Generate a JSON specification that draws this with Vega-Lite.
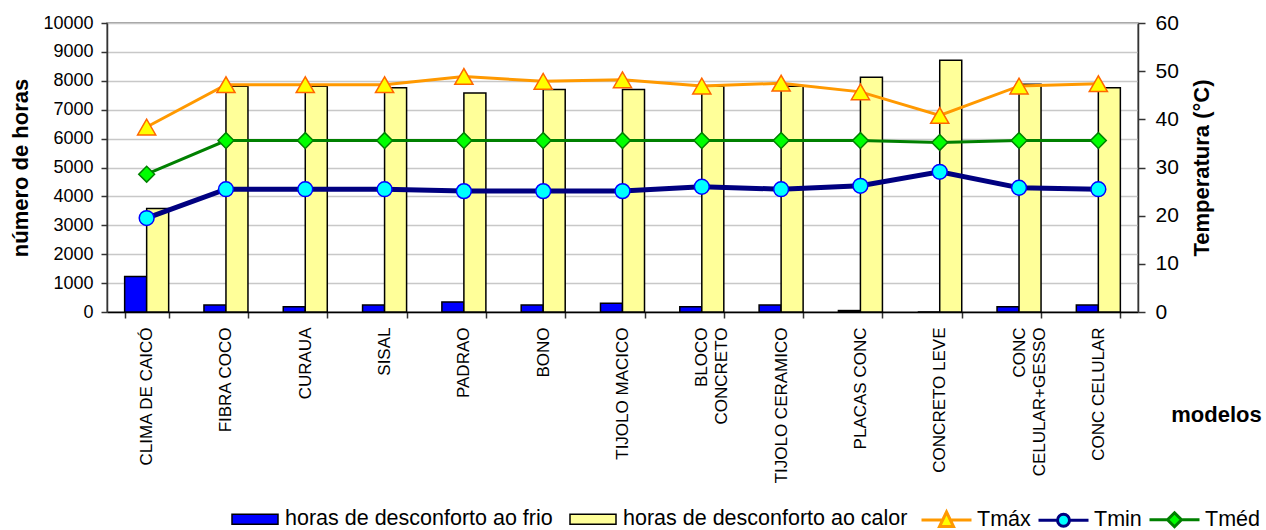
{
  "$schema": "https://vega.github.io/schema/vega-lite/v6.json",
  "width": 1031,
  "height": 289,
  "autosize": {"type": "none"},
  "padding": {"left": 107, "top": 23, "right": 128, "bottom": 218},
  "background": "white",
  "config": {
    "font": "Liberation Sans",
    "view": {"stroke": "#808080", "strokeWidth": 1.5},
    "axis": {
      "labelColor": "#000000",
      "titleColor": "#000000",
      "domainColor": "#333333",
      "tickColor": "#333333",
      "domainWidth": 1.5,
      "tickWidth": 1.5,
      "labelFont": "Liberation Sans",
      "titleFont": "Liberation Sans"
    },
    "legend": {
      "labelFont": "Liberation Sans",
      "labelFontSize": 21.5,
      "labelColor": "#000000",
      "labelLimit": 400
    }
  },
  "data": {
    "values": [
      {"modelo": "CLIMA DE CAICÓ", "serie": "horas de desconforto ao frio", "valor": 1230},
      {"modelo": "CLIMA DE CAICÓ", "serie": "horas de desconforto ao calor", "valor": 3580},
      {"modelo": "CLIMA DE CAICÓ", "serie": "Tmáx", "valor": 38.4},
      {"modelo": "CLIMA DE CAICÓ", "serie": "Tmin", "valor": 19.5},
      {"modelo": "CLIMA DE CAICÓ", "serie": "Tméd", "valor": 28.6},
      {"modelo": "FIBRA COCO", "serie": "horas de desconforto ao frio", "valor": 240},
      {"modelo": "FIBRA COCO", "serie": "horas de desconforto ao calor", "valor": 7810},
      {"modelo": "FIBRA COCO", "serie": "Tmáx", "valor": 47.2},
      {"modelo": "FIBRA COCO", "serie": "Tmin", "valor": 25.5},
      {"modelo": "FIBRA COCO", "serie": "Tméd", "valor": 35.6},
      {"modelo": "CURAUA", "serie": "horas de desconforto ao frio", "valor": 180},
      {"modelo": "CURAUA", "serie": "horas de desconforto ao calor", "valor": 7810},
      {"modelo": "CURAUA", "serie": "Tmáx", "valor": 47.2},
      {"modelo": "CURAUA", "serie": "Tmin", "valor": 25.5},
      {"modelo": "CURAUA", "serie": "Tméd", "valor": 35.6},
      {"modelo": "SISAL", "serie": "horas de desconforto ao frio", "valor": 240},
      {"modelo": "SISAL", "serie": "horas de desconforto ao calor", "valor": 7760},
      {"modelo": "SISAL", "serie": "Tmáx", "valor": 47.2},
      {"modelo": "SISAL", "serie": "Tmin", "valor": 25.5},
      {"modelo": "SISAL", "serie": "Tméd", "valor": 35.6},
      {"modelo": "PADRAO", "serie": "horas de desconforto ao frio", "valor": 350},
      {"modelo": "PADRAO", "serie": "horas de desconforto ao calor", "valor": 7580},
      {"modelo": "PADRAO", "serie": "Tmáx", "valor": 48.9},
      {"modelo": "PADRAO", "serie": "Tmin", "valor": 25.1},
      {"modelo": "PADRAO", "serie": "Tméd", "valor": 35.6},
      {"modelo": "BONO", "serie": "horas de desconforto ao frio", "valor": 240},
      {"modelo": "BONO", "serie": "horas de desconforto ao calor", "valor": 7700},
      {"modelo": "BONO", "serie": "Tmáx", "valor": 47.9},
      {"modelo": "BONO", "serie": "Tmin", "valor": 25.1},
      {"modelo": "BONO", "serie": "Tméd", "valor": 35.6},
      {"modelo": "TIJOLO MACICO", "serie": "horas de desconforto ao frio", "valor": 300},
      {"modelo": "TIJOLO MACICO", "serie": "horas de desconforto ao calor", "valor": 7700},
      {"modelo": "TIJOLO MACICO", "serie": "Tmáx", "valor": 48.2},
      {"modelo": "TIJOLO MACICO", "serie": "Tmin", "valor": 25.1},
      {"modelo": "TIJOLO MACICO", "serie": "Tméd", "valor": 35.6},
      {"modelo": "BLOCO CONCRETO", "serie": "horas de desconforto ao frio", "valor": 185},
      {"modelo": "BLOCO CONCRETO", "serie": "horas de desconforto ao calor", "valor": 7810},
      {"modelo": "BLOCO CONCRETO", "serie": "Tmáx", "valor": 46.9},
      {"modelo": "BLOCO CONCRETO", "serie": "Tmin", "valor": 26.0},
      {"modelo": "BLOCO CONCRETO", "serie": "Tméd", "valor": 35.6},
      {"modelo": "TIJOLO CERAMICO", "serie": "horas de desconforto ao frio", "valor": 240},
      {"modelo": "TIJOLO CERAMICO", "serie": "horas de desconforto ao calor", "valor": 7810},
      {"modelo": "TIJOLO CERAMICO", "serie": "Tmáx", "valor": 47.5},
      {"modelo": "TIJOLO CERAMICO", "serie": "Tmin", "valor": 25.5},
      {"modelo": "TIJOLO CERAMICO", "serie": "Tméd", "valor": 35.6},
      {"modelo": "PLACAS CONC", "serie": "horas de desconforto ao frio", "valor": 50},
      {"modelo": "PLACAS CONC", "serie": "horas de desconforto ao calor", "valor": 8120},
      {"modelo": "PLACAS CONC", "serie": "Tmáx", "valor": 45.7},
      {"modelo": "PLACAS CONC", "serie": "Tmin", "valor": 26.2},
      {"modelo": "PLACAS CONC", "serie": "Tméd", "valor": 35.6},
      {"modelo": "CONCRETO LEVE", "serie": "horas de desconforto ao frio", "valor": 0},
      {"modelo": "CONCRETO LEVE", "serie": "horas de desconforto ao calor", "valor": 8710},
      {"modelo": "CONCRETO LEVE", "serie": "Tmáx", "valor": 40.8},
      {"modelo": "CONCRETO LEVE", "serie": "Tmin", "valor": 29.1},
      {"modelo": "CONCRETO LEVE", "serie": "Tméd", "valor": 35.2},
      {"modelo": "CONC CELULAR+GESSO", "serie": "horas de desconforto ao frio", "valor": 185},
      {"modelo": "CONC CELULAR+GESSO", "serie": "horas de desconforto ao calor", "valor": 7880},
      {"modelo": "CONC CELULAR+GESSO", "serie": "Tmáx", "valor": 46.9},
      {"modelo": "CONC CELULAR+GESSO", "serie": "Tmin", "valor": 25.8},
      {"modelo": "CONC CELULAR+GESSO", "serie": "Tméd", "valor": 35.6},
      {"modelo": "CONC CELULAR", "serie": "horas de desconforto ao frio", "valor": 240},
      {"modelo": "CONC CELULAR", "serie": "horas de desconforto ao calor", "valor": 7760},
      {"modelo": "CONC CELULAR", "serie": "Tmáx", "valor": 47.4},
      {"modelo": "CONC CELULAR", "serie": "Tmin", "valor": 25.5},
      {"modelo": "CONC CELULAR", "serie": "Tméd", "valor": 35.6}
    ]
  },
  "encoding": {
    "x": {
      "field": "modelo",
      "type": "nominal",
      "sort": null,
      "scale": {"paddingInner": 0.445, "paddingOuter": 0.2225},
      "axis": {
        "title": "modelos",
        "titleFontSize": 22,
        "titleFontWeight": "bold",
        "titleX": 1109,
        "titleY": 102,
        "titleAlign": "center",
        "titleBaseline": "middle",
        "titleAngle": 0,
        "labelAngle": -90,
        "labelFontSize": 17,
        "labelPadding": 9,
        "labelLineHeight": 20,
        "labelLimit": 300,
        "labelOverlap": false,
        "tickSize": 6,
        "tickBand": "extent",
        "domainColor": "#000000",
        "labelExpr": "datum.value == 'BLOCO CONCRETO' ? ['BLOCO\u00a0\u00a0\u00a0\u00a0', 'CONCRETO'] : datum.value == 'CONC CELULAR+GESSO' ? ['CONC\u00a0\u00a0\u00a0\u00a0\u00a0\u00a0\u00a0\u00a0\u00a0\u00a0', 'CELULAR+GESSO'] : datum.label"
      }
    }
  },
  "layer": [
    {
      "transform": [{"filter": "datum.serie == 'horas de desconforto ao frio' || datum.serie == 'horas de desconforto ao calor'"}],
      "mark": {"type": "bar", "stroke": "#000000", "strokeWidth": 1.5},
      "encoding": {
        "xOffset": {
          "field": "serie",
          "type": "nominal",
          "scale": {"domain": ["horas de desconforto ao frio", "horas de desconforto ao calor"]}
        },
        "y": {
          "field": "valor",
          "type": "quantitative",
          "scale": {"domain": [0, 10000], "nice": false},
          "axis": {
            "orient": "left",
            "title": "número de horas",
            "titleFontSize": 22,
            "titleFontWeight": "bold",
            "titlePadding": 10,
            "values": [0, 1000, 2000, 3000, 4000, 5000, 6000, 7000, 8000, 9000, 10000],
            "format": "d",
            "labelFontSize": 18,
            "labelPadding": 8,
            "labelFlush": false,
            "labelOverlap": false,
            "tickSize": 6,
            "grid": true,
            "gridColor": "#c8c8c8",
            "gridWidth": 1.3
          }
        },
        "color": {
          "field": "serie",
          "type": "nominal",
          "scale": {
            "domain": ["horas de desconforto ao frio", "horas de desconforto ao calor"],
            "range": ["#0000ff", "#ffff99"]
          },
          "legend": {
            "title": null,
            "orient": "none",
            "legendX": 122,
            "legendY": 470,
            "direction": "horizontal",
            "columns": 2,
            "symbolType": "M-0.92,-0.2H0.92V0.2H-0.92Z",
            "symbolSize": 2500,
            "symbolStrokeColor": "#000000",
            "symbolStrokeWidth": 1.5,
            "symbolOpacity": 1,
            "labelOffset": 4,
            "columnPadding": 14
          }
        }
      }
    },
    {
      "encoding": {
        "y": {
          "field": "valor",
          "type": "quantitative",
          "scale": {"domain": [0, 60], "nice": false},
          "axis": {
            "orient": "right",
            "title": "Temperatura (°C)",
            "titleFontSize": 22,
            "titleFontWeight": "bold",
            "titleAngle": 270,
            "titleBaseline": "top",
            "titlePadding": 13,
            "values": [0, 10, 20, 30, 40, 50, 60],
            "labelFontSize": 21,
            "labelPadding": 10,
            "labelFlush": false,
            "labelOverlap": false,
            "tickSize": 7,
            "grid": false
          }
        }
      },
      "layer": [
        {
          "transform": [{"filter": "datum.serie == 'Tmáx'"}],
          "mark": {"type": "line", "strokeWidth": 3},
          "encoding": {
            "stroke": {
              "field": "serie",
              "type": "nominal",
              "scale": {"domain": ["Tmáx", "Tmin", "Tméd"], "range": ["#ff9900", "#000080", "#008000"]},
              "legend": {
                "title": null,
                "orient": "none",
                "legendX": 813,
                "legendY": 470,
                "direction": "horizontal",
                "columns": 3,
                "symbolSize": 2500,
                "symbolStrokeWidth": 3,
                "symbolOpacity": 1,
                "labelOffset": 4,
                "columnPadding": 1
              }
            }
          }
        },
        {
          "transform": [{"filter": "datum.serie == 'Tmin'"}],
          "mark": {"type": "line", "strokeWidth": 5},
          "encoding": {
            "stroke": {"field": "serie", "type": "nominal", "scale": {"domain": ["Tmáx", "Tmin", "Tméd"], "range": ["#ff9900", "#000080", "#008000"]}}
          }
        },
        {
          "transform": [{"filter": "datum.serie == 'Tméd'"}],
          "mark": {"type": "line", "strokeWidth": 3},
          "encoding": {
            "stroke": {"field": "serie", "type": "nominal", "scale": {"domain": ["Tmáx", "Tmin", "Tméd"], "range": ["#ff9900", "#000080", "#008000"]}}
          }
        },
        {
          "transform": [{"filter": "datum.serie == 'Tmáx' || datum.serie == 'Tmin' || datum.serie == 'Tméd'"}],
          "mark": {"type": "point", "size": 0, "filled": true, "opacity": 1},
          "encoding": {
            "shape": {
              "field": "serie",
              "type": "nominal",
              "scale": {
                "domain": ["Tmáx", "Tmin", "Tméd"],
                "range": [
                  "M-1,0H-0.15M0.15,0H1M0,-0.32L0.28,0.26L-0.28,0.26Z",
                  "M-1,0H-0.24M0.24,0H1M0.24,0C0.24,0.1325 0.1325,0.24 0,0.24C-0.1325,0.24 -0.24,0.1325 -0.24,0C-0.24,-0.1325 -0.1325,-0.24 0,-0.24C0.1325,-0.24 0.24,-0.1325 0.24,0Z",
                  "M-1,0H-0.28M0.28,0H1M0,-0.28L0.28,0L0,0.28L-0.28,0Z"
                ]
              }
            },
            "fill": {
              "field": "serie",
              "type": "nominal",
              "scale": {"domain": ["Tmáx", "Tmin", "Tméd"], "range": ["#ffff00", "#00ffff", "#00ff00"]}
            }
          }
        },
        {
          "transform": [{"filter": "datum.serie == 'Tmáx'"}],
          "mark": {"type": "point", "shape": "triangle-up", "size": 330, "filled": true, "fill": "#ffff00", "stroke": "#ff6600", "strokeWidth": 1.5, "opacity": 1}
        },
        {
          "transform": [{"filter": "datum.serie == 'Tmin'"}],
          "mark": {"type": "point", "shape": "circle", "size": 220, "filled": true, "fill": "#00ffff", "stroke": "#0000ff", "strokeWidth": 1.5, "opacity": 1}
        },
        {
          "transform": [{"filter": "datum.serie == 'Tméd'"}],
          "mark": {"type": "point", "shape": "diamond", "size": 250, "filled": true, "fill": "#00ff00", "stroke": "#008000", "strokeWidth": 1.5, "opacity": 1}
        }
      ]
    }
  ],
  "resolve": {"scale": {"y": "independent"}}
}
